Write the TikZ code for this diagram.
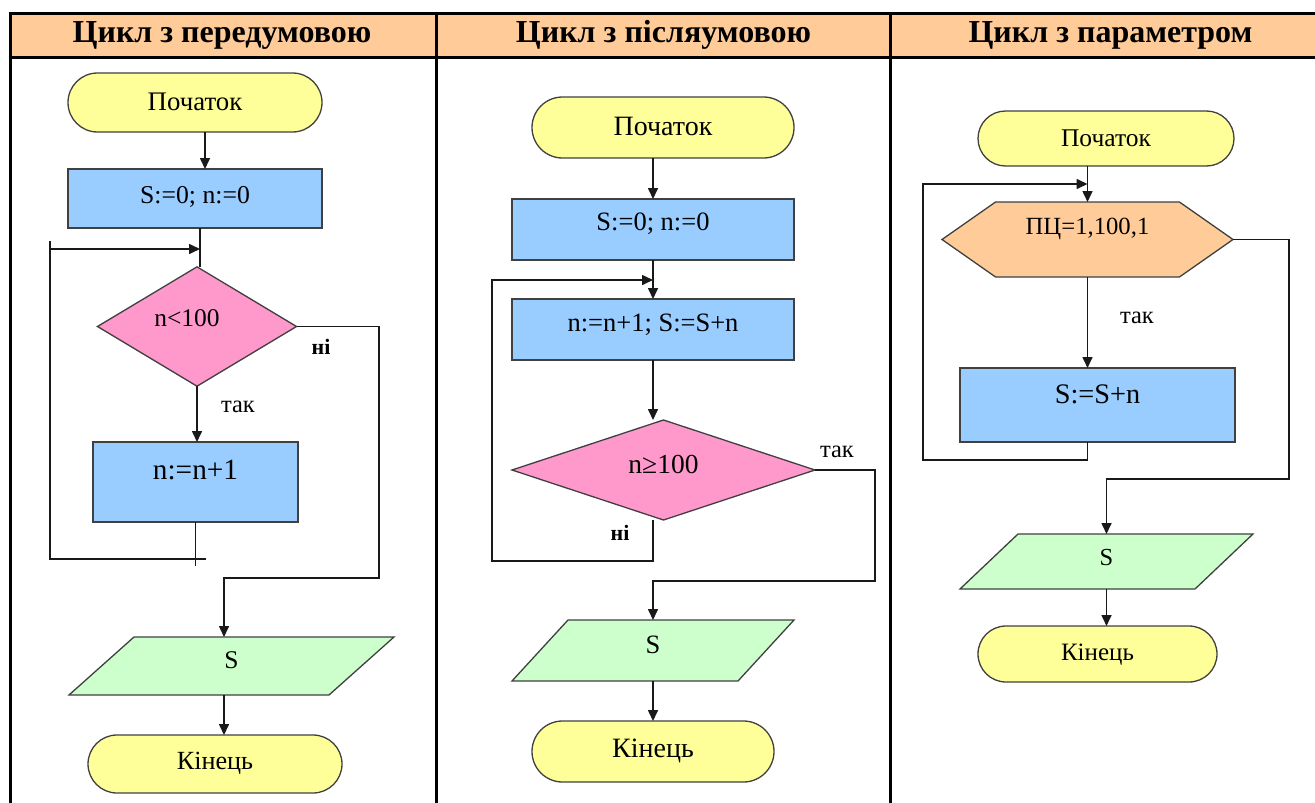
\documentclass[tikz,border=0pt]{standalone}
\usepackage{fontspec}
\setmainfont{Liberation Serif}
\usetikzlibrary{shapes.geometric,shapes.misc,shapes.symbols,arrows.meta,calc,backgrounds}
\newcommand\setfs[1]{\fontsize{#1}{#1}\selectfont}
\definecolor{termfill}{HTML}{FFFF99}
\definecolor{procfill}{HTML}{99CCFF}
\definecolor{decfill}{HTML}{FF99CC}
\definecolor{iofill}{HTML}{CCFFCC}
\definecolor{peach}{HTML}{FFCC99}
\definecolor{edgegray}{HTML}{404040}
\tikzset{
  shapebase/.style={draw=edgegray, line width=1.3pt, inner sep=0pt, outer sep=0pt,
    text=black, text height=17pt},
  term/.style={shapebase, rounded rectangle, fill=termfill},
  proc/.style={shapebase, rectangle, fill=procfill},
  dec/.style={shapebase, diamond, fill=decfill},
  iobox/.style={shapebase, rectangle, draw=none},
  ioframe/.style={draw=edgegray, line width=1.3pt, fill=iofill, line join=miter},
  loophead/.style={shapebase, signal, signal to=west and east, fill=peach},
  conn/.style={draw=black!90, line width=1.6pt},
  arr/.style={conn, -{Triangle[length=11pt,width=10pt]}},
  lbl/.style={inner sep=0pt, text=black},
  head/.style={font=\setfs{32}\bfseries, anchor=base, inner sep=0pt},
  grid/.style={line width=3pt, black}
}
% slanted input/output block behind a named text node: #1 node, #2 horizontal slant
\newcommand\ioslant[2]{%
  \begin{scope}[on background layer]
    \draw[ioframe] ($(#1.north west)+(#2,0)$) -- (#1.north east)
      -- ($(#1.south east)+(-#2,0)$) -- (#1.south west) -- cycle;
  \end{scope}}
\begin{document}
\begin{tikzpicture}[x=1pt, y=-1pt]
\useasboundingbox (0,0) rectangle (1315,803);

% table frame and header row
\fill[peach] (10,13) rectangle (1315,57);
\draw[grid] (8.5,13) -- (1315,13);
\draw[grid] (8.5,57) -- (1315,57);
\draw[grid] (10,13) -- (10,803);
\draw[grid] (436,13) -- (436,803);
\draw[grid] (890,13) -- (890,803);
\node[head] (t1) at (222,42) {Цикл з передумовою};
\node[head] (t2) at (663.5,42) {Цикл з післяумовою};
\node[head] (t3) at (1110.5,42) {Цикл з параметром};

% ---------- loop with precondition ----------
\node[term, font=\setfs{26.8}, minimum width=254pt, minimum height=59pt] (s1) at (195,102.5) {Початок};
\node[proc, font=\setfs{25.7}, minimum width=254pt, minimum height=59pt, text depth=7pt] (p1a) at (195,198.5) {S:=0; n:=0};
\node[dec, font=\setfs{25.5}, minimum width=199pt, minimum height=109pt, text depth=17pt] (d1) at (197,326.5) {n<100\kern20pt};
\node[proc, font=\setfs{29.3}, minimum width=205pt, minimum height=80pt, text depth=22pt] (p1b) at (195.5,482) {n:=n+1};
\node[iobox, font=\setfs{25.5}, minimum width=325pt, minimum height=58pt, text depth=12pt] (io1) at (231.5,666) {S};
\ioslant{io1}{65}
\node[term, font=\setfs{26.2}, minimum width=254pt, minimum height=58pt] (e1) at (215,764) {Кінець};
\node[lbl, font=\setfs{24.5}] (yes1) at (238,407) {так};
\node[lbl, font=\setfs{22}\bfseries] (no1) at (321,347) {ні};

\coordinate (x1a) at (205,0);
\coordinate (x1b) at (200,0);
\coordinate (x1c) at (224,0);
\coordinate (l1a) at (206,559);
\coordinate (l1b) at (50,559);
\coordinate (l1c) at (50,241);
\coordinate (l1d) at (50,249);
\coordinate (r1) at (379,578);
\draw[arr] (s1.south -| x1a) -- (p1a.north -| x1a);
\draw[conn] (p1a.south -| x1b) -- (d1.north -| x1b);
\draw[arr] (d1.south) -- (d1.south |- p1b.north);
\draw[conn] (p1b.south) -- ++(0,44);
\draw[conn] (l1a) -- (l1b) -- (l1c);
\draw[arr] (l1d) -- (l1d -| x1b);
\draw[arr] (d1.east) -| (r1) -| (io1.north -| x1c);
\draw[arr] (io1.south -| x1c) -- (e1.north -| x1c);

% ---------- loop with postcondition ----------
\node[term, font=\setfs{28}, minimum width=262pt, minimum height=61pt] (s2) at (663,127.5) {Початок};
\node[proc, font=\setfs{26.5}, minimum width=282pt, minimum height=61pt, text depth=15pt] (p2a) at (653,229.5) {S:=0; n:=0};
\node[proc, font=\setfs{26.5}, minimum width=282pt, minimum height=61pt, text depth=13pt] (p2b) at (653,329.5) {n:=n+1; S:=S+n};
\node[dec, font=\setfs{27.5}, minimum width=303pt, minimum height=100pt, text depth=10pt] (d2) at (663.5,470) {n≥100};
\node[iobox, font=\setfs{26.5}, minimum width=282pt, minimum height=61pt, text depth=11pt] (io2) at (653,650.5) {S};
\ioslant{io2}{56}
\node[term, font=\setfs{28}, minimum width=242pt, minimum height=61pt] (e2) at (653,751.5) {Кінець};
\node[lbl, font=\setfs{24.5}] (yes2) at (837,452) {так};
\node[lbl, font=\setfs{22}\bfseries] (no2) at (620,533) {ні};

\coordinate (r2) at (875,581);
\coordinate (l2b) at (492,561);
\coordinate (l2t) at (653,280);
\draw[arr] (s2.south -| p2a.north) -- (p2a.north);
\draw[arr] (p2a.south) -- (p2b.north);
\draw[arr] (p2b.south) -- (p2b.south |- d2.north);
\draw[arr] (d2.south -| p2b.south) |- (l2b) |- (l2t);
\draw[arr] (d2.east) -| (r2) -| (io2.north);
\draw[arr] (io2.south) -- (e2.north);

% ---------- loop with parameter ----------
\node[term, font=\setfs{25.5}, minimum width=256pt, minimum height=55pt] (s3) at (1106,138.5) {Початок};
\node[loophead, font=\setfs{24.7}, minimum width=291pt, minimum height=75pt,
      signal pointer angle=70, text depth=27pt] (h3) at (1087.5,239.5) {ПЦ=1,100,1};
\node[proc, font=\setfs{28.3}, minimum width=275pt, minimum height=74pt, text depth=20pt] (p3) at (1097.5,405) {S:=S+n};
\node[iobox, font=\setfs{24.5}, minimum width=293pt, minimum height=55pt, text depth=9pt] (io3) at (1106.5,561.5) {S};
\ioslant{io3}{58}
\node[term, font=\setfs{25}, minimum width=239pt, minimum height=56pt] (e3) at (1097.5,654) {Кінець};
\node[lbl, font=\setfs{24.5}] (yes3) at (1137,318) {так};

\coordinate (r3) at (1289,479);
\coordinate (l3b) at (923,460);
\coordinate (l3t) at (1088,184);
\draw[arr] (s3.south -| h3.north) -- (h3.north);
\draw[arr] (h3.south) -- (h3.south |- p3.north);
\draw[arr] (p3.south -| h3.south) |- (l3b) |- (h3.north |- l3t);
\draw[arr] (h3.east) -| (r3) -| (io3.north);
\draw[arr] (io3.south) -- (io3.south |- e3.north);
\end{tikzpicture}
\end{document}
